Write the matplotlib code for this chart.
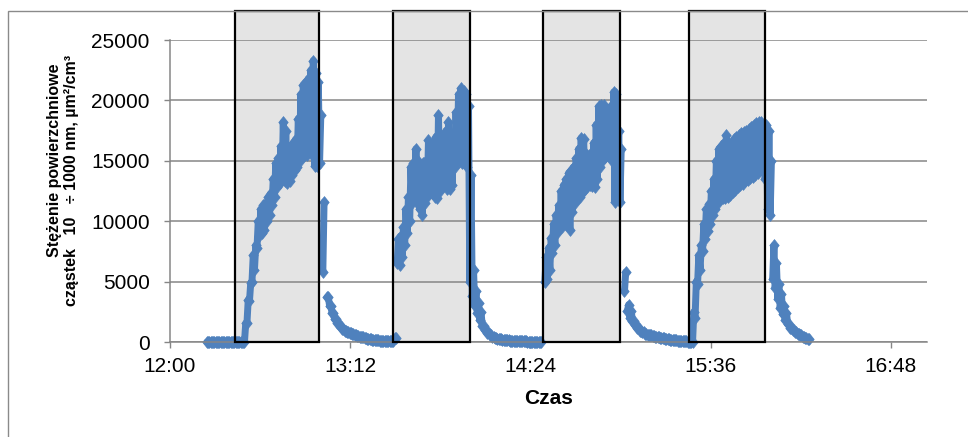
import numpy as np
import matplotlib
matplotlib.use('Agg')
import matplotlib.pyplot as plt
from matplotlib.patches import Rectangle
from matplotlib.transforms import blended_transform_factory

plt.rcParams['font.family'] = ['Liberation Sans', 'DejaVu Sans']

# minutes after 12:00 of the first reading in each run of points
start = [15, 61.3, 63, 91, 150, 181.8, 183, 241]

# one reading per minute: a number, or (min, max) where the points form a band
odc1 = [0, 0, 0, 0, 0, 0, 0, 0, 0, 0, 0, 0, 0, 0, 0,
        (0, 1550), (1600, 3500), (3400, 4900), (5000, 7200), (6000, 8000),
        (7800, 10000), (8800, 11000), (9000, 11300), (9300, 11500),
        (10000, 12000), (10500, 12300), (11300, 13500), (12000, 14800),
        (12800, 15200), (13200, 16200), (13400, 18200), (13300, 17500),
        (13200, 16000), (13300, 16200), (13800, 16500), (14200, 16800),
        (14500, 18500), (15000, 20500), (15300, 21300), (15500, 21500),
        (15500, 21800), (15800, 22500), (15500, 23300), (14600, 22300),
        (14600, 21500), (14800, 18800)]
odc2 = [(5800, 11600)]
odc3 = [3700, 3000, 2400, 1900, 1600, 1300, 1100, 950, 850, 750, 680, 600,
        520, 450, 390, 330, 280, 230, 200, 160, 130, 110, 95, 80, 70, 60, 50,
        350]
odc4 = [(6500, 8500), (6400, 8800), (7000, 9500), (8000, 11000),
        (9000, 12000), (10000, 14500), (11500, 14800), (12000, 16000),
        (11500, 15000), (11000, 14500), (10500, 14800), (11500, 15000),
        (12000, 16700), (12500, 15500), (12500, 16000), (12000, 17000),
        (11900, 18800), (12500, 17000), (13000, 16500), (13000, 17500),
        (12700, 18200), (12700, 16500), (13000, 17000), (14500, 19000),
        (15000, 20500), (15000, 21000), (14800, 20800), (14800, 20500),
        (14500, 19500), (5000, 13800), (3800, 6000), (3000, 4200),
        (2400, 3200), (1800, 2500),
        1300, 1000, 750, 580, 450, 350, 280, 230, 190, 160, 130, 110, 95, 80,
        70, 60, 50, 45, 40, 35, 30, 30, 30, 30]
odc5 = [(5000, 7000), (5200, 7800), (6000, 8600), (7400, 9800),
        (8000, 10500), (9000, 11300), (9500, 12500), (9500, 13000),
        (9800, 13500), (9800, 14000), (9300, 14200), (10800, 14500),
        (11500, 15200), (11800, 16000), (12000, 16900), (12300, 16800),
        (12700, 15600), (12800, 15500), (13000, 15500), (12900, 16500),
        (12800, 18000), (13500, 19500), (14500, 19600), (15000, 19600),
        (15300, 19200), (15500, 19000), (15300, 19500), (15000, 20700),
        (11600, 20500), (12000, 17500), (11600, 16000)]
odc6 = [(4200, 5800)]
odc7 = [(2600, 3100), (2000, 2600), 1700, 1400, 1150, 900, 800, 700, 620,
        550, 480, 430, 380, 330, 290, 260, 230, 200, 160, 130, 110, 90, 70,
        50, 40, 30,
        (0, 2500), (2000, 5000), (4800, 7200), (6000, 8000), (7500, 9800),
        (8500, 11000), (9200, 11400), (9800, 12500), (10500, 13500),
        (11000, 15000), (11500, 16000), (12000, 16200), (11900, 16500),
        (11900, 17100), (12000, 15500), (12200, 16400), (12400, 16800),
        (12600, 17000), (12800, 17100), (13000, 17300), (13100, 17400),
        (13300, 17500), (13400, 17600), (13600, 17800), (13700, 18000),
        (13800, 18100), (14000, 18200), (14200, 18250), (14300, 18000),
        (13500, 18000), (11000, 17500), (10500, 15000)]
odc8 = [(5200, 8000), (4500, 6500), (3600, 4800), (2800, 4000),
        (2300, 3000), (1800, 2400), 1500, 1200, 1000, 850, 700, 580, 450,
        350, 260]
odcinki = [odc1, odc2, odc3, odc4, odc5, odc6, odc7, odc8]

# exposure windows (minutes after 12:00)
okno_od = [26, 89, 149, 207.3]
okno_do = [59.5, 120, 179.7, 237.7]

tick_min = [0, 72, 144, 216, 288]
tick_lab = ['12:00', '13:12', '14:24', '15:36', '16:48']
y_ticks = [0, 5000, 10000, 15000, 20000, 25000]

W, H = 968, 437
fig = plt.figure(figsize=(W / 100, H / 100), dpi=100)
ax = fig.add_axes([170 / W, 1 - 342 / H, 757 / W, 302 / H])

blue = '#4f81bd'
grey = '#868686'
diamond = [(0, 1), (0.8, 0), (0, -1), (-0.8, 0), (0, 1)]

for t0, odc in zip(start, odcinki):
    lo = np.array([v[0] if isinstance(v, tuple) else v for v in odc], float)
    hi = np.array([v[1] if isinstance(v, tuple) else v for v in odc], float)
    t = t0 + np.arange(len(odc))
    tt = np.column_stack([t - 0.25, t + 0.25]).ravel()
    vv = np.column_stack([lo, hi]).ravel()
    ax.plot(tt, vv, '-', color=blue, lw=5, solid_joinstyle='round',
            solid_capstyle='round', zorder=2, clip_on=False)
    ax.plot(tt, vv, ls='none', marker=diamond, ms=8.5, mfc=blue, mec=blue,
            mew=0.5, zorder=2, clip_on=False)

trans = blended_transform_factory(ax.transData, ax.transAxes)
top = (342 - 11) / 302
for a, b in zip(okno_od, okno_do):
    ax.add_patch(Rectangle((a, 0), b - a, top, transform=trans,
                           facecolor='#e4e4e4', edgecolor='none',
                           zorder=0.2, clip_on=False))
    ax.add_patch(Rectangle((a, 0), b - a, top, transform=trans,
                           facecolor='none', edgecolor='black', lw=1.6,
                           zorder=3, clip_on=False))

ax.set_xlim(0, 302.4)
ax.set_ylim(0, 25000)
ax.set_xticks(tick_min)
ax.set_xticklabels(tick_lab)
ax.set_yticks(y_ticks)
ax.set_yticklabels([str(v) for v in y_ticks])
ax.yaxis.grid(True, color=grey, lw=1.1)
ax.set_axisbelow(True)
ax.set_facecolor('none')
for s in ['top', 'right']:
    ax.spines[s].set_visible(False)
for s in ['left', 'bottom']:
    ax.spines[s].set_color(grey)
    ax.spines[s].set_linewidth(1.1)
ax.tick_params(axis='y', direction='out', length=4, width=1, color=grey,
               pad=10.5, labelsize=15)
ax.tick_params(axis='x', direction='out', length=4.5, width=1, color=grey,
               pad=6, labelsize=15)

ax.set_xlabel('Czas', fontsize=15, fontweight='bold', labelpad=10)
fig.text(55 / W, 1 - 160 / H, 'Stężenie powierzchniowe', rotation=90,
         ha='center', va='center', fontsize=11.5, fontweight='bold')
fig.text(72 / W, 1 - 180 / H, 'cząstek   10   ÷ 1000 nm, µm²/cm³',
         rotation=90, ha='center', va='center', fontsize=11.5,
         fontweight='bold')

fig.add_artist(Rectangle((8 / W, -0.5), 2, 1.5 - 11 / H,
                         transform=fig.transFigure, fill=False,
                         edgecolor='#8a8a8a', lw=1))

fig.savefig('out.png', dpi=100)
